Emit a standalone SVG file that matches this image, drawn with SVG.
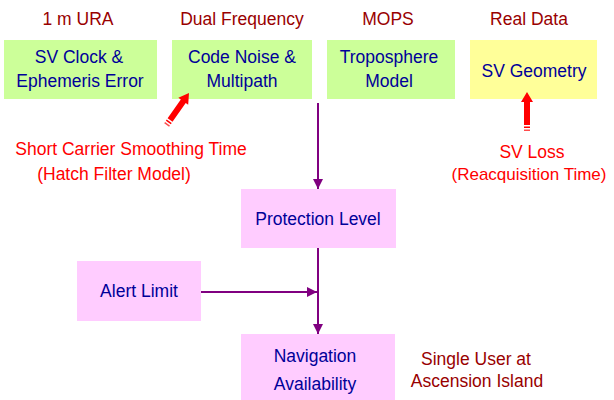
<svg xmlns="http://www.w3.org/2000/svg" width="614" height="400" viewBox="0 0 614 400">
<defs>
<style>
text{font-family:"Liberation Sans",Arial,sans-serif;font-size:17.5px;text-anchor:middle}
.hd{fill:#990000}
.bt{fill:#000099}
.rt{fill:#FF0000}
.dr{fill:#990000}
.green{fill:#CCFF99}
.yellow{fill:#FFFF99}
.pink{fill:#FFCCFF}
.conn{stroke:#800080;stroke-width:2;fill:none}
</style>
<marker id="ah" viewBox="0 0 10 10" refX="10" refY="5" markerWidth="5" markerHeight="5" orient="auto" markerUnits="strokeWidth">
<path d="M0,0 L10,5 L0,10 z" fill="#800080"/>
</marker>
<g id="redArrow">
<polygon points="0,0 6,10 3,10 3,33 -3,33 -3,10 -6,10" fill="#FF0000"/>
<rect x="-3" y="34.5" width="6" height="1.5" fill="#FF0000"/>
<rect x="-3" y="37.5" width="6" height="1.5" fill="#FF0000" opacity="0.7"/>
</g>
</defs>
<rect width="614" height="400" fill="#FFFFFF"/>

<g id="headers">
<text class="hd" x="78" y="25">1 m URA</text>
<text class="hd" x="242" y="25">Dual Frequency</text>
<text class="hd" x="388" y="25">MOPS</text>
<text class="hd" x="529" y="25">Real Data</text>
</g>

<g id="sv-clock">
<rect class="green" x="4" y="40" width="153" height="59"/>
<text class="bt" x="79" y="63">SV Clock &amp;</text>
<text class="bt" x="80" y="87">Ephemeris Error</text>
</g>
<g id="code-noise">
<rect class="green" x="172" y="40" width="140" height="59"/>
<text class="bt" x="242" y="63">Code Noise &amp;</text>
<text class="bt" x="242" y="87">Multipath</text>
</g>
<g id="troposphere">
<rect class="green" x="327" y="40" width="128" height="59"/>
<text class="bt" x="389" y="63">Troposphere</text>
<text class="bt" x="389" y="87">Model</text>
</g>
<g id="sv-geometry">
<rect class="yellow" x="470" y="40" width="127" height="59"/>
<text class="bt" x="534" y="77">SV Geometry</text>
</g>
<g id="protection-level">
<rect class="pink" x="241" y="189" width="155" height="59"/>
<text class="bt" x="318" y="225">Protection Level</text>
</g>
<g id="alert-limit">
<rect class="pink" x="77" y="261" width="124" height="60"/>
<text class="bt" x="139" y="297">Alert Limit</text>
</g>
<g id="navigation">
<rect class="pink" x="241" y="334" width="154" height="66"/>
<text class="bt" x="315" y="362">Navigation</text>
<text class="bt" x="315" y="390">Availability</text>
</g>

<g id="labels">
<text class="rt" x="131" y="155">Short Carrier Smoothing Time</text>
<text class="rt" x="114" y="180">(Hatch Filter Model)</text>
<text class="rt" x="532" y="158">SV Loss</text>
<text class="rt" x="529" y="180" style="font-size:17px">(Reacquisition Time)</text>
<text class="dr" x="476" y="365">Single User at</text>
<text class="dr" x="477" y="387">Ascension Island</text>
</g>

<g id="connectors">
<line class="conn" x1="318" y1="103" x2="318" y2="189" marker-end="url(#ah)"/>
<line class="conn" x1="318" y1="248" x2="318" y2="334" marker-end="url(#ah)"/>
<line class="conn" x1="201" y1="292" x2="317" y2="292" marker-end="url(#ah)"/>
<use href="#redArrow" transform="translate(189,93) rotate(35)"/>
<use href="#redArrow" transform="translate(527,92)"/>
</g>
</svg>
